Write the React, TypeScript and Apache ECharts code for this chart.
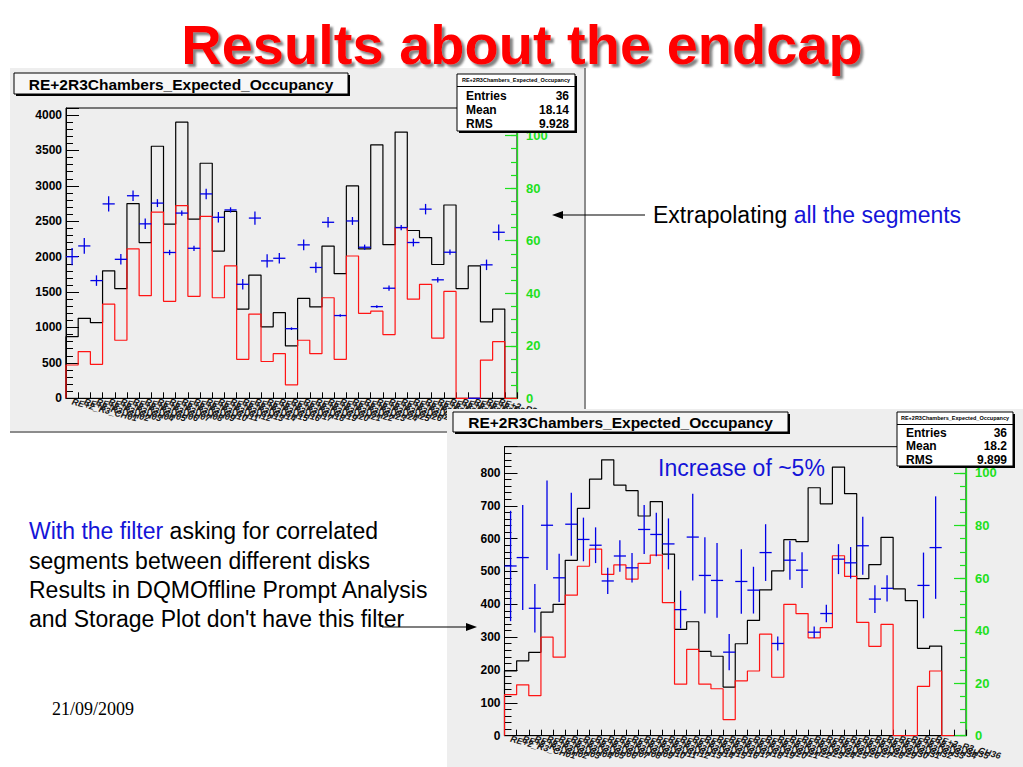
import React, { useEffect, useRef } from "react";
import * as echarts from "echarts";

// ---------- data ----------
const chambers = Array.from({ length: 36 }, (_, i) => `RE+2_R3_CH${String(i + 1).padStart(2, "0")}`);
const topCategories = [...chambers, ""];
const bottomCategories = [...chambers, "", ""];

// top plot: extrapolating all the segments
const topExpected = [870, 1130, 1070, 1800, 1550, 2750, 2200, 3560, 2460, 3900, 2530, 3320, 2080, 2640, 1260, 1740, 1010, 1210, 740, 1410, 1290, 2150, 1760, 3000, 2110, 3580, 2170, 3760, 2370, 2270, 1890, 2730, 1550, 1870, 1080, 1260];
const topObserved = [470, 660, 480, 1330, 820, 2110, 1450, 2630, 1370, 2720, 1440, 2570, 1420, 1870, 550, 1190, 520, 630, 190, 820, 630, 1420, 550, 2010, 1200, 1230, 900, 2410, 1400, 1610, 850, 1510, 0, 0, 540, 800];
const topEfficiency = [53.9, 58.0, 44.8, 74.0, 52.9, 77.1, 66.4, 74.3, 55.5, 70.5, 57.1, 77.8, 68.9, 71.7, 43.4, 68.6, 52.3, 53.3, 26.5, 58.4, 49.8, 67.0, 31.5, 67.5, 57.5, 34.9, 41.9, 65.0, 59.3, 72.0, 45.1, 55.6, null, 0, 50.8, 63.2];
const topEfficiencyErr = [3.3, 3, 2, 2.9, 2, 2, 2, 1.5, 1, 1, 1, 2, 2, 1, 2, 2.5, 2.5, 2, 0.5, 2, 2, 2, 0.5, 1.5, 1, 0.5, 1, 1, 1.5, 2, 1, 1, null, 0, 2, 3];

// bottom plot: with the filter
const bottomExpected = [197, 228, 254, 376, 400, 534, 692, 781, 840, 763, 746, 669, 713, 553, 324, 347, 257, 242, 148, 280, 351, 444, 502, 597, 591, 755, 706, 818, 737, 478, 521, 604, 447, 411, 266, 273];
const bottomObserved = [125, 155, 122, 300, 239, 428, 516, 568, 491, 520, 477, 525, 550, 405, 157, 263, 157, 143, 49, 167, 197, 309, 178, 400, 372, 298, 329, 548, 485, 345, 272, 339, 0, 0, 150, 197];
const bottomEfficiency = [64.6, 67.8, 48.5, 80.1, 60.1, 80.5, 74.7, 72.5, 58.9, 68.4, 63.9, 78.5, 76.6, 73.0, 48.0, 75.6, 61.0, 59.1, 31.8, 58.7, 55.4, 69.7, 35.1, 66.8, 63.0, 39.4, 46.5, 67.2, 65.8, 72.3, 52.0, 56.1, null, null, 57.2, 71.6];
const bottomEfficiencyErr = [21, 20, 9.2, 17, 9.2, 12, 8.3, 6.8, 5, 6, 5.6, 9.3, 8.3, 9.7, 7.2, 16.5, 14.5, 14.2, 6.9, 12.3, 8.9, 10.8, 2.7, 7.4, 6.8, 2.2, 3.3, 5.7, 6, 11, 5.3, 5, null, null, 12.5, 19.5];

const histTitle = "RE+2R3Chambers_Expected_Occupancy";
const topStats = [["Entries", "36"], ["Mean", "18.14"], ["RMS", "9.928"]];
const bottomStats = [["Entries", "36"], ["Mean", "18.2"], ["RMS", "9.899"]];

// ---------- styles ----------
const FONT = "'Liberation Sans', Arial, Helvetica, sans-serif";
const SERIF = "'Liberation Serif', 'Times New Roman', serif";
const RED = "#ff1414";
const BLUE = "#0000e6";
const GREEN = "#1ee01e";
const TEXT_BLUE = "#1414d8";
const PANEL = "#eeeeee";

function stepPoints(values: number[], xEnd: number) {
  const pts: number[][] = [[0, 0]];
  values.forEach((v, i) => pts.push([i, v]));
  pts.push([values.length, 0]);
  if (xEnd > values.length) pts.push([xEnd, 0]);
  return pts;
}

function crossData(eff: (number | null)[], err: (number | null)[]) {
  const out: number[][] = [];
  eff.forEach((v, i) => {
    if (v != null) out.push([i, v, err[i] ?? 0]);
  });
  return out;
}

const crossRender = (_params: any, api: any) => {
  const i = api.value(0);
  const v = api.value(1);
  const e = api.value(2);
  const l = api.coord([i, v]);
  const r = api.coord([i + 1, v]);
  const t = api.coord([i + 0.5, v + e]);
  const b = api.coord([i + 0.5, v - e]);
  return {
    type: "group",
    children: [
      { type: "line", shape: { x1: l[0], y1: l[1], x2: r[0], y2: r[1] }, style: { stroke: BLUE, lineWidth: 1.3 } },
      { type: "line", shape: { x1: t[0], y1: t[1], x2: b[0], y2: b[1] }, style: { stroke: BLUE, lineWidth: 1.3 } },
    ],
  };
};

type PanelDef = {
  gi: number;
  left: number;
  top: number;
  width: number;
  height: number;
  cats: string[];
  leftMax: number;
  leftMajor: number;
  leftMinor: number;
  rightMax: number;
  expected: number[];
  observed: number[];
  observedEnd: number;
  eff: (number | null)[];
  err: (number | null)[];
  z: number;
};

function buildPanel(d: PanelDef) {
  const bins = d.cats.length;
  const grid = {
    left: d.left,
    top: d.top,
    width: d.width,
    height: d.height,
    show: true,
    borderColor: "#000",
    borderWidth: 1,
    backgroundColor: "transparent",
    z: d.z,
  };
  const xAxes = [
    {
      type: "category",
      gridIndex: d.gi,
      data: d.cats,
      boundaryGap: true,
      position: "bottom",
      z: d.z + 1,
      axisLine: { show: true, onZero: false, lineStyle: { color: "#000", width: 1 } },
      axisTick: { show: true, inside: true, length: 6, interval: 0, lineStyle: { color: "#000" } },
      axisLabel: {
        interval: 0,
        rotate: -15,
        margin: 3,
        fontSize: 9,
        fontWeight: "bold",
        fontStyle: "italic",
        color: "#151515",
        fontFamily: FONT,
      },
      splitLine: { show: false },
    },
    { type: "value", gridIndex: d.gi, min: 0, max: bins, show: false, axisLine: { onZero: false } },
  ];
  const yAxes = [
    {
      type: "value",
      gridIndex: d.gi,
      position: "left",
      min: 0,
      max: d.leftMax,
      interval: d.leftMajor,
      z: d.z + 1,
      axisLine: { show: true, onZero: false, lineStyle: { color: "#000" } },
      axisTick: { show: true, inside: true, length: 13, lineStyle: { color: "#000" } },
      axisLabel: {
        fontSize: 12,
        fontWeight: "bold",
        color: "#000",
        margin: 4,
        fontFamily: FONT,
        formatter: (v: number) => (v % d.leftMajor === 0 ? String(v) : ""),
      },
      splitLine: { show: false },
    },
    {
      type: "value",
      gridIndex: d.gi,
      position: "left",
      min: 0,
      max: d.leftMax,
      interval: d.leftMinor,
      z: d.z + 1,
      axisLine: { show: false, onZero: false },
      axisTick: { show: true, inside: true, length: 7, lineStyle: { color: "#000" } },
      axisLabel: { show: false },
      splitLine: { show: false },
    },
    {
      type: "value",
      gridIndex: d.gi,
      position: "right",
      min: 0,
      max: d.rightMax,
      interval: 20,
      z: d.z + 1,
      axisLine: { show: true, onZero: false, lineStyle: { color: GREEN, width: 1.3 } },
      axisTick: { show: true, inside: true, length: 12, lineStyle: { color: GREEN, width: 1.2 } },
      axisLabel: {
        fontSize: 13,
        fontWeight: "bold",
        color: GREEN,
        margin: 9,
        fontFamily: FONT,
        formatter: (v: number) => (v % 20 === 0 ? String(v) : ""),
      },
      splitLine: { show: false },
    },
    {
      type: "value",
      gridIndex: d.gi,
      position: "right",
      min: 0,
      max: d.rightMax,
      interval: 5,
      z: d.z + 1,
      axisLine: { show: false, onZero: false },
      axisTick: { show: true, inside: true, length: 6, lineStyle: { color: GREEN, width: 1.2 } },
      axisLabel: { show: false },
      splitLine: { show: false },
    },
  ];
  const series = [
    {
      type: "line",
      xAxisIndex: d.gi * 2 + 1,
      yAxisIndex: d.gi * 4,
      data: stepPoints(d.expected, d.expected.length),
      step: "end",
      symbol: "none",
      silent: true,
      lineStyle: { color: "#000", width: 1.2 },
      z: d.z + 2,
    },
    {
      type: "line",
      xAxisIndex: d.gi * 2 + 1,
      yAxisIndex: d.gi * 4,
      data: stepPoints(d.observed, d.observedEnd),
      step: "end",
      symbol: "none",
      silent: true,
      lineStyle: { color: RED, width: 1.2 },
      z: d.z + 3,
    },
    {
      type: "custom",
      xAxisIndex: d.gi * 2 + 1,
      yAxisIndex: d.gi * 4 + 2,
      data: crossData(d.eff, d.err),
      renderItem: crossRender,
      silent: true,
      z: d.z + 4,
    },
  ];
  return { grid, xAxes, yAxes, series };
}

function shadowBox(x: number, y: number, w: number, h: number, fill: string, z: number) {
  return [
    { type: "rect", shape: { x: x + 2, y: y + 2, width: w, height: h }, style: { fill: "#000" }, z },
    { type: "rect", shape: { x, y, width: w, height: h }, style: { fill, stroke: "#000", lineWidth: 1 }, z: z + 1 },
  ];
}

function titleBox(x: number, y: number, w: number, h: number, z: number) {
  return [
    ...shadowBox(x, y, w, h, "#f6f6f6", z),
    {
      type: "text",
      x: x + w / 2,
      y: y + h / 2 + 0.5,
      z: z + 2,
      style: { text: histTitle, fill: "#000", fontSize: 15.5, fontWeight: "bold", fontFamily: FONT, align: "center", verticalAlign: "middle" },
    },
  ];
}

function statsBox(x: number, y: number, w: number, h: number, rows: string[][], z: number, first: number, step: number) {
  const els: any[] = [...shadowBox(x, y, w, h, "#ffffff", z)];
  els.push({
    type: "text",
    x: x + w / 2,
    y: y + 6,
    z: z + 2,
    style: { text: histTitle, fill: "#000", fontSize: 5.5, fontWeight: "bold", fontFamily: FONT, align: "center", verticalAlign: "middle" },
  });
  els.push({ type: "line", shape: { x1: x, y1: y + 12.5, x2: x + w, y2: y + 12.5 }, style: { stroke: "#000", lineWidth: 1 }, z: z + 2 });
  rows.forEach((r, k) => {
    const cy = y + first + k * step;
    els.push({
      type: "text",
      x: x + 9,
      y: cy,
      z: z + 2,
      style: { text: r[0], fill: "#000", fontSize: 12, fontWeight: "bold", fontFamily: FONT, align: "left", verticalAlign: "middle" },
    });
    els.push({
      type: "text",
      x: x + w - 6,
      y: cy,
      z: z + 2,
      style: { text: r[1], fill: "#000", fontSize: 12, fontWeight: "bold", fontFamily: FONT, align: "right", verticalAlign: "middle" },
    });
  });
  return els;
}

function buildOption() {
  const top = buildPanel({
    gi: 0,
    left: 66,
    top: 108,
    width: 451,
    height: 290.3,
    cats: topCategories,
    leftMax: 4100,
    leftMajor: 500,
    leftMinor: 100,
    rightMax: 110.5,
    expected: topExpected,
    observed: topObserved,
    observedEnd: topCategories.length,
    eff: topEfficiency,
    err: topEfficiencyErr,
    z: 1,
  });
  const bottom = buildPanel({
    gi: 1,
    left: 504.5,
    top: 446.7,
    width: 461.5,
    height: 289,
    cats: bottomCategories,
    leftMax: 880,
    leftMajor: 100,
    leftMinor: 20,
    rightMax: 110,
    expected: bottomExpected,
    observed: bottomObserved,
    observedEnd: 37,
    eff: bottomEfficiency,
    err: bottomEfficiencyErr,
    z: 11,
  });

  const graphics: any[] = [
    // top canvas
    { type: "rect", shape: { x: 10, y: 68, width: 575, height: 364 }, style: { fill: PANEL }, z: -10 },
    { type: "line", shape: { x1: 585, y1: 68, x2: 585, y2: 432 }, style: { stroke: "#8c8c8c", lineWidth: 2 }, z: -9 },
    { type: "line", shape: { x1: 10, y1: 432, x2: 586, y2: 432 }, style: { stroke: "#8c8c8c", lineWidth: 2 }, z: -9 },
    ...titleBox(14, 73, 334, 21, 6),
    ...statsBox(457, 74, 118, 57, topStats, 6, 21.5, 14.3),
    // bottom canvas
    { type: "rect", shape: { x: 447, y: 409, width: 576, height: 358 }, style: { fill: PANEL }, z: 10 },
    ...titleBox(453, 412, 335, 20, 17),
    ...statsBox(897, 412, 116, 54, bottomStats, 17, 20.5, 13.5),
    // slide texts
    {
      type: "text",
      x: 522,
      y: 44,
      z: 30,
      style: {
        text: "Results about the endcap",
        fill: "#ff0000",
        fontSize: 56,
        fontWeight: "bold",
        fontFamily: FONT,
        align: "center",
        verticalAlign: "middle",
        textShadowColor: "rgba(80,80,80,0.7)",
        textShadowOffsetX: 3,
        textShadowOffsetY: 3,
        textShadowBlur: 2,
      },
    },
    {
      type: "text",
      x: 653,
      y: 215,
      z: 30,
      style: {
        text: "{k|Extrapolating }{b|all the segments}",
        fontSize: 23,
        fontFamily: FONT,
        fill: "#000",
        align: "left",
        verticalAlign: "middle",
        rich: {
          k: { fill: "#000", fontSize: 23, fontFamily: FONT },
          b: { fill: TEXT_BLUE, fontSize: 23, fontFamily: FONT },
        },
      },
    },
    { type: "line", shape: { x1: 645, y1: 215, x2: 560, y2: 215 }, style: { stroke: "#000", lineWidth: 1.2 }, z: 30 },
    { type: "polygon", shape: { points: [[552, 215], [563, 211], [563, 219]] }, style: { fill: "#000" }, z: 30 },
    {
      type: "text",
      x: 29,
      y: 531,
      z: 30,
      style: {
        text: "{b|With the filter}{k| asking for correlated}",
        fontSize: 23,
        fontFamily: FONT,
        fill: "#000",
        align: "left",
        verticalAlign: "middle",
        rich: {
          k: { fill: "#000", fontSize: 23, fontFamily: FONT },
          b: { fill: TEXT_BLUE, fontSize: 23, fontFamily: FONT },
        },
      },
    },
    { type: "text", x: 29, y: 560.5, z: 30, style: { text: "segments between different disks", fill: "#000", fontSize: 23, fontFamily: FONT, align: "left", verticalAlign: "middle" } },
    { type: "text", x: 29, y: 590, z: 30, style: { text: "Results in DQMOffline Prompt Analysis", fill: "#000", fontSize: 23, fontFamily: FONT, align: "left", verticalAlign: "middle" } },
    { type: "text", x: 29, y: 619, z: 30, style: { text: "and Storage Plot don't have this filter", fill: "#000", fontSize: 23, fontFamily: FONT, align: "left", verticalAlign: "middle" } },
    { type: "line", shape: { x1: 382, y1: 627, x2: 469, y2: 627 }, style: { stroke: "#000", lineWidth: 1.2 }, z: 30 },
    { type: "polygon", shape: { points: [[477, 627], [466, 623], [466, 631]] }, style: { fill: "#000" }, z: 30 },
    { type: "text", x: 52, y: 709, z: 30, style: { text: "21/09/2009", fill: "#000", fontSize: 18, fontFamily: SERIF, align: "left", verticalAlign: "middle" } },
    { type: "text", x: 658, y: 468, z: 30, style: { text: "Increase of ~5%", fill: TEXT_BLUE, fontSize: 23, fontFamily: FONT, align: "left", verticalAlign: "middle" } },
  ];

  return {
    animation: false,
    backgroundColor: "#ffffff",
    textStyle: { fontFamily: FONT },
    grid: [top.grid, bottom.grid],
    xAxis: [...top.xAxes, ...bottom.xAxes],
    yAxis: [...top.yAxes, ...bottom.yAxes],
    series: [...top.series, ...bottom.series],
    graphic: { elements: graphics },
  };
}

export default function App() {
  const ref = useRef<HTMLDivElement>(null);
  useEffect(() => {
    if (!ref.current) return;
    const chart = echarts.init(ref.current, null, { renderer: "svg" });
    chart.setOption(buildOption() as any);
    return () => chart.dispose();
  }, []);
  return (
    <div
      ref={ref}
      style={{ position: "fixed", left: 0, top: 0, width: 1023, height: 767, background: "#ffffff" }}
    />
  );
}
